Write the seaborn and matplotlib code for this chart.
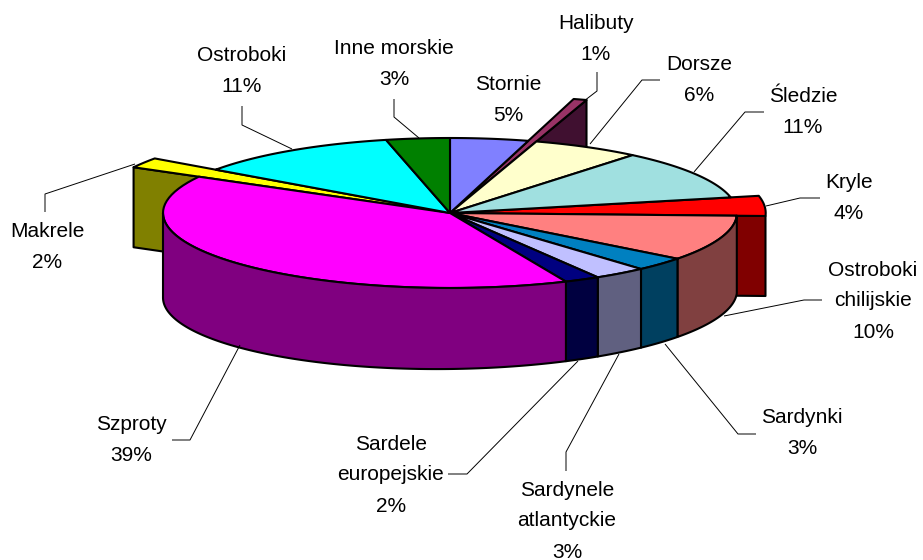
import numpy as np
import matplotlib
matplotlib.use("Agg")
import matplotlib.pyplot as plt
import seaborn as sns

sns.set_style("white")
plt.rcParams['font.family'] = ['Liberation Sans', 'DejaVu Sans']

# clockwise from 12 o'clock, shares
names = ["Stornie", "Halibuty", "Dorsze", "Śledzie", "Kryle", "Ostroboki\nchilijskie",
         "Sardynki", "Sardynele\natlantyckie", "Sardele\neuropejskie", "Szproty",
         "Makrele", "Ostroboki", "Inne morskie"]
shares = [5.0, 0.5, 6.4, 11.0, 4.0, 10.0, 3.0, 3.0, 2.0, 39.2, 1.7, 11.1, 3.1]
percents = [5, 1, 6, 11, 4, 10, 3, 3, 2, 39, 2, 11, 3]
top_hex = ["#8080FF", "#993366", "#FFFFCC", "#A0E0E0", "#FF0000", "#FF8080", "#0080C0",
           "#C0C0FF", "#000080", "#FF00FF", "#FFFF00", "#00FFFF", "#008000"]
explode = [1, 1.58, 1, 1, 1.1, 1, 1, 1, 1, 1, 1.26, 1, 1]

# label centres and leader lines, pixels of the 923x560 picture
label_xy = [(508, 100), (596, 39), (699, 80), (803, 112), (849, 198), (873, 301),
            (802, 433), (567, 521), (391, 475), (131, 440), (47, 247), (242, 71), (394, 64)]
leaders = [None,
           [(597, 72), (597, 91), (584, 101)],
           [(660, 80), (642, 80), (590, 144)],
           [(764, 112), (745, 112), (694, 172)],
           [(820, 198), (800, 198), (766, 206)],
           [(822, 300), (804, 300), (724, 316)],
           [(756, 434), (738, 434), (665, 344)],
           [(566, 471), (566, 452), (619, 354)],
           [(448, 474), (467, 474), (578, 361)],
           [(172, 440), (190, 440), (240, 345)],
           [(45, 212), (45, 194), (135, 164)],
           [(242, 106), (242, 125), (292, 149)],
           [(394, 99), (394, 117), (419, 138)]]

CX, CY = 450, 213
RX, RY = 287, 75
LW = 1.5

colors = np.array(sns.color_palette(top_hex))
dark = colors * 0.5
dark[1] = np.array(sns.color_palette(["#401030"])[0])


def warp(theta):
    # the old 3D renderer pulls slices slightly back, strongest at the front
    return theta - 5.5 * np.abs(np.sin(np.radians(theta) / 2)) ** 0.5


def project(theta, scale=1.0):
    t = np.radians(warp(np.asarray(theta, dtype=float)))
    return CX + RX * scale * np.sin(t), CY - RY * scale * np.cos(t)


def depth(x):
    return 81 - 3.5 * (x - CX) / RX


edges = np.concatenate([[0], np.cumsum(shares)]) * 3.6

fig = plt.figure(figsize=(9.23, 5.6), dpi=100)
ax = fig.add_axes([0, 0, 1, 1])
ax.set_xlim(0, 923)
ax.set_ylim(560, 0)
ax.axis("off")


def poly(xs, ys, color, z):
    ax.fill(xs, ys, facecolor=color, edgecolor="black", linewidth=LW, joinstyle="round", zorder=z)


# exploded slices sit behind everything: cut wall first, then the top
for i, s in enumerate(explode):
    if s == 1:
        continue
    a, b = edges[i], edges[i + 1]
    # which cut face shows depends on the side of the pie
    cut = a if a > 180 else b
    x0, y0 = project(cut, s)
    poly([x0, x0, CX, CX], [y0, y0 + 80, CY + 80, CY], dark[i], 1)
    th = np.linspace(a, b, 12)
    xs, ys = project(th, s)
    poly(np.r_[CX, xs], np.r_[CY, ys], colors[i], 2)

# regular tops
for i, s in enumerate(explode):
    if s != 1:
        continue
    th = np.linspace(edges[i], edges[i + 1], 60)
    xs, ys = project(th)
    poly(np.r_[CX, xs], np.r_[CY, ys], colors[i], 3)

# front wall of the regular slices
for i, s in enumerate(explode):
    if s != 1:
        continue
    t0 = np.linspace(0, 360, 2001)
    front = warp(t0)
    keep = (t0 >= edges[i]) & (t0 <= edges[i + 1]) & (front >= 92) & (front <= 270)
    if keep.sum() < 2:
        continue
    xs, ys = project(t0[keep])
    poly(np.r_[xs, xs[::-1]], np.r_[ys, (ys + depth(xs))[::-1]], dark[i], 4)

for name, pct, (lx, ly), line in zip(names, percents, label_xy, leaders):
    ax.text(lx, ly, f"{name}\n{pct}%", ha="center", va="center", fontsize=15,
            linespacing=1.8, color="black", zorder=6)
    if line is not None:
        ax.plot(*zip(*line), color="black", linewidth=0.7, zorder=5, solid_capstyle="butt")

fig.savefig("out.png", dpi=100, facecolor="white")
